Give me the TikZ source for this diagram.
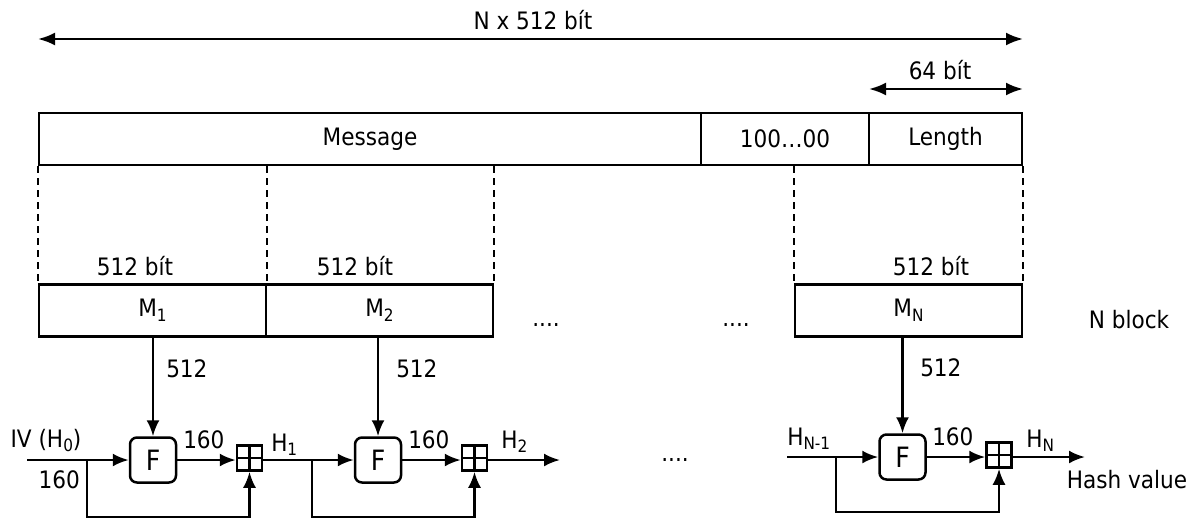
\documentclass[tikz,border=0pt]{standalone}
\usepackage{fontspec}
\setmainfont{DejaVu Sans Condensed}
\usetikzlibrary{arrows.meta}
\newcommand{\dn}[1]{\raisebox{-0.35ex}{\fontsize{8.5}{9}\selectfont #1}}
\begin{document}
\begin{tikzpicture}[x=0.5pt,y=-0.5pt,
  font=\fontsize{12}{14}\selectfont,
  line width=1.25pt,
  tip/.style={-{Latex[length=8pt,width=6.5pt]}},
  dtip/.style={{Latex[length=8.5pt,width=6.5pt]}-{Latex[length=8.5pt,width=6.5pt]}},
  field/.style={draw, minimum height=26pt, inner sep=0pt},
  fbox/.style={draw, rounded corners=3.5pt, minimum width=23pt, minimum height=22.5pt, inner sep=0pt, font=\fontsize{14}{16}\selectfont},
  plusbox/.style={draw, minimum size=12.5pt, inner sep=0pt,
    path picture={\draw (path picture bounding box.north) -- (path picture bounding box.south)
                        (path picture bounding box.west) -- (path picture bounding box.east);}},
  guide/.style={dash pattern=on 3.5pt off 2.5pt, line width=0.9pt},
  lbl/.style={inner sep=0pt}
]
\useasboundingbox (0,0) rectangle (1192,520);

% top dimension arrows
\node[lbl, anchor=base] (ntitle) at (533,29) {N x 512 bít};
\coordinate (tl) at (38,39); \coordinate (tr) at (1023,39);
\draw[dtip] (tl) -- (tr);
\node[lbl, anchor=base] (t64) at (940,79) {64 bít};
\coordinate (sl) at (869,89); \coordinate (sr) at (1023,89);
\draw[dtip] (sl) -- (sr);

% padded message
\node[field, minimum width=331pt] (msg) at (370,139) {Message};
\node[field, minimum width=84pt] (pad) at (785,139) {100…00};
\node[field, minimum width=76.5pt] (len) at (945.5,139) {Length};

% blocks
\node[field, minimum width=113.5pt] (m1) at (152.5,310.5) {M\dn{1}};
\node[field, minimum width=113.5pt] (m2) at (379.5,310.5) {M\dn{2}};
\node[field, minimum width=113.5pt] (mn) at (908.5,310.5) {M\dn{N}};

\draw[guide] (msg.south west) -- (m1.north west);
\draw[guide] (m1.north east |- msg.south) -- (m1.north east);
\draw[guide] (m2.north east |- msg.south) -- (m2.north east);
\draw[guide] (mn.north west |- msg.south) -- (mn.north west);
\draw[guide] (len.south east) -- (mn.north east);

\node[lbl, anchor=base] (b1l) at (135,275) {512 bít};
\node[lbl, anchor=base] (b2l) at (355,275) {512 bít};
\node[lbl, anchor=base] (bnl) at (931,275) {512 bít};

\node[lbl, anchor=base] (dots1) at (546,326) {....};
\node[lbl, anchor=base] (dots2) at (736,326) {....};
\node[lbl, anchor=base] (nblock) at (1129,328) {N block};

% chain 1
\node[fbox] (f1) at (153,460) {F};
\node[plusbox] (p1) at (249.5,458) {};
\coordinate (in1) at (27,460);
\coordinate (b1) at (87,460);
\coordinate (lb1) at (87,517);
\draw[tip] (f1.north |- m1.south) -- (f1.north);
\draw[tip] (in1) -- (f1.west);
\draw[tip] (f1.east) -- (f1.east -| p1.west);
\draw[tip] (b1) -- (lb1) -| (p1.south);
\node[lbl, anchor=base west] (l512a) at (165,377) {512};
\node[lbl, anchor=base] (iv) at (46,447) {IV (H\dn{0})};
\node[lbl, anchor=base east] (l160a) at (81,488) {160};
\node[lbl, anchor=base west] (l160b) at (182,448) {160};
\node[lbl, anchor=base west] (h1) at (270,451) {H\dn{1}};

% chain 2
\node[fbox] (f2) at (378,460) {F};
\node[plusbox] (p2) at (474.5,458) {};
\coordinate (b2) at (312,460);
\coordinate (lb2) at (312,517);
\coordinate (out2) at (560,460);
\draw[tip] (f2.north |- m2.south) -- (f2.north);
\draw[tip] (p1.east |- f2.west) -- (f2.west);
\draw[tip] (f2.east) -- (f2.east -| p2.west);
\draw[tip] (b2) -- (lb2) -| (p2.south);
\draw[tip] (p2.east |- f2.west) -- (out2);
\node[lbl, anchor=base west] (l512b) at (395,377) {512};
\node[lbl, anchor=base west] (l160c) at (407,448) {160};
\node[lbl, anchor=base west] (h2) at (500,448) {H\dn{2}};

\node[lbl, anchor=base] (dots3) at (675,461) {....};

% chain N
\node[fbox] (f3) at (902.5,457) {F};
\node[plusbox] (p3) at (999,455) {};
\coordinate (in3) at (787,457);
\coordinate (b3) at (836,457);
\coordinate (lb3) at (836,512);
\coordinate (out3) at (1085,457);
\draw[tip] (f3.north |- mn.south) -- (f3.north);
\draw[tip] (in3) -- (f3.west);
\draw[tip] (f3.east) -- (f3.east -| p3.west);
\draw[tip] (b3) -- (lb3) -| (p3.south);
\draw[tip] (p3.east |- f3.west) -- (out3);
\node[lbl, anchor=base west] (l512c) at (919,376) {512};
\node[lbl, anchor=base west] (hn1) at (786,445) {H\dn{N-1}};
\node[lbl, anchor=base west] (l160d) at (931,445) {160};
\node[lbl, anchor=base west] (hn) at (1025,447) {H\dn{N}};
\node[lbl, anchor=base] (hash) at (1127,488) {Hash value};
\end{tikzpicture}
\end{document}
